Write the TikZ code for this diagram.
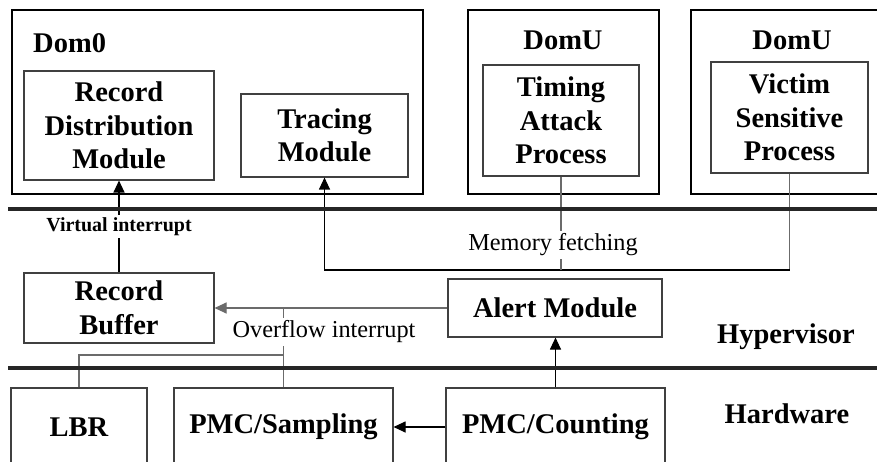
\documentclass[tikz,border=0pt]{standalone}
\usepackage{fontspec}
\setmainfont{Liberation Serif}
\usetikzlibrary{arrows.meta}
\definecolor{boxgray}{gray}{0.25}
\definecolor{linegray}{gray}{0.42}
\begin{document}
\begin{tikzpicture}[x=1pt,y=-1pt,
  outer/.style={draw=black, line width=1.1pt, inner sep=0pt},
  inner/.style={draw=boxgray, line width=1.1pt, inner sep=0pt, align=center,
    font=\bfseries\fontsize{28.5}{33.5}\selectfont},
  title/.style={inner sep=0pt, font=\bfseries\fontsize{28.5}{33.5}\selectfont},
  conn/.style={draw=black, line width=1.1pt},
  gconn/.style={draw=linegray, line width=1.1pt},
  tip/.style={-{Triangle[length=12pt,width=11pt]}},
  rlabel/.style={fill=white, inner sep=3pt, font=\fontsize{24.3}{28}\selectfont},
  blabel/.style={fill=white, inner sep=2pt, font=\bfseries\fontsize{20}{24}\selectfont},
  bus/.style={line width=4.5pt, draw=black!85}]
\useasboundingbox (0,0) rectangle (877,462);
\clip (0,0) rectangle (877,462);

% guest domains
\node[outer, minimum width=411pt, minimum height=184pt] (dom0) at (217.5,102) {};
\node[title, anchor=west] (dom0t) at (33,43) {Dom0};
\node[inner, minimum width=190pt, minimum height=109pt] (rdm) at (119,125.5)
  {Record\\Distribution\\Module};
\node[inner, minimum width=167pt, minimum height=83pt] (tracing) at (324.5,135.5)
  {Tracing\\Module};

\node[outer, minimum width=191pt, minimum height=184pt] (domu1) at (563.5,102) {};
\node[title] (domu1t) at (563,40) {DomU};
\node[inner, minimum width=156pt, minimum height=111pt] (timing) at (561,120.5)
  {Timing\\Attack\\Process};

\node[outer, minimum width=209pt, minimum height=184pt] (domu2) at (795.5,102) {};
\node[title] (domu2t) at (792,40) {DomU};
\node[inner, minimum width=157pt, minimum height=111pt] (victim) at (789.5,117.5)
  {Victim\\Sensitive\\Process};

% hypervisor layer
\node[inner, minimum width=190pt, minimum height=70pt] (rb) at (119,308) {Record\\Buffer};
\node[inner, minimum width=214pt, minimum height=58pt] (alert) at (555,308) {Alert Module};
\node[title] (hyp) at (786,337) {Hypervisor};

% hardware layer
\node[inner, minimum width=136pt, minimum height=78pt] (lbr) at (79,427) {LBR};
\node[inner, minimum width=219pt, minimum height=78pt] (pmcs) at (283.5,427) {PMC/Sampling};
\node[inner, minimum width=219pt, minimum height=78pt] (pmcc) at (555.5,427) {PMC/Counting};
\node[title] (hw) at (787,414) {Hardware};

% record buffer to Dom0
\draw[conn, tip] (rb.north) -- node[blabel] {Virtual interrupt} (rdm.south);

% memory fetching path
\coordinate (memline) at (0,270);
\draw[gconn] (victim.south) -- (victim.south |- memline);
\draw[conn, tip] (victim.south |- memline) -| (tracing.south);
\draw[gconn] (timing.south) -- (timing.south |- memline);
\node[rlabel] (memt) at (553,245) {Memory fetching};

% overflow interrupt path
\coordinate (ovj) at (0,308);
\coordinate (lbrj) at (0,355);
\draw[gconn, tip] (alert.west) -- (rb.east);
\draw[gconn] (pmcs.north) -- (pmcs.north |- ovj);
\draw[gconn] (lbr.north) |- (pmcs.north |- lbrj);
\node[rlabel] (ovt) at (324,332) {Overflow interrupt};

% counting unit
\draw[conn, tip] (pmcc.west) -- (pmcs.east);
\draw[conn, tip] (pmcc.north) -- (pmcc.north |- alert.south);

% layer boundaries
\draw[bus] (8,209) -- (885,209);
\draw[bus] (8,368) -- (885,368);
\end{tikzpicture}
\end{document}
